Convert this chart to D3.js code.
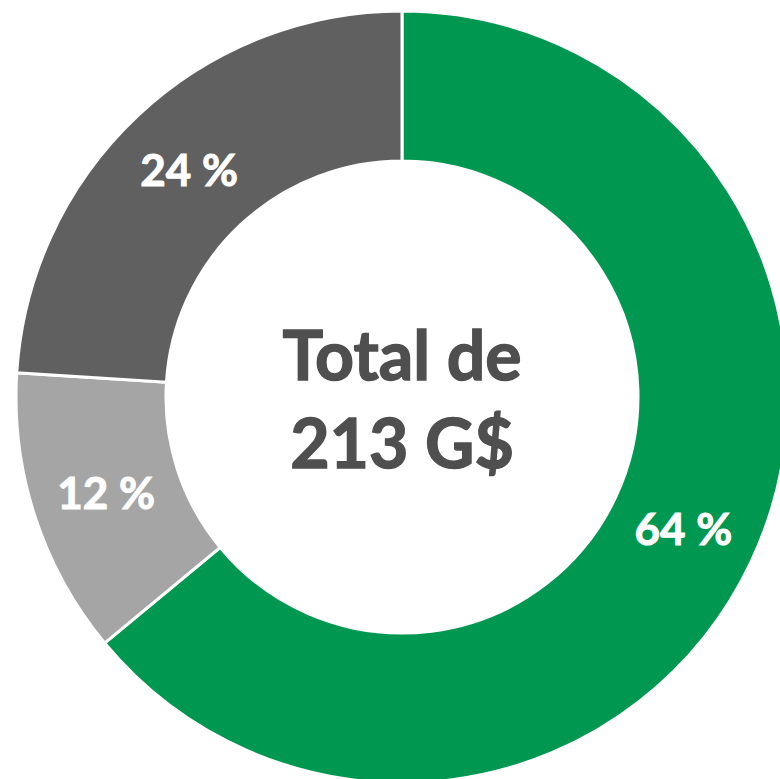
<!doctype html>
<html lang="fr">
<head>
  <meta charset="UTF-8">
  <title>Total de 213 G$</title>
  <script src="https://cdnjs.cloudflare.com/ajax/libs/d3/7.8.5/d3.min.js"></script>
  <style>
  html, body { margin: 0; padding: 0; background: #fff; }
  svg { display: block; }
  </style>
</head>
<body>
<script>

var categories = ["A", "B", "C"];
var values = [64, 12, 24];
var labels = ["64 %", "12 %", "24 %"];
var colors = ["#009750", "#a5a5a5", "#606060"];
var title = ["Total de", "213 G$"];

var w = 780;
var h = 779;
var cx = 402, cy = 397;
var outerR = 386, innerR = 236;

var svg = d3.select('body')
  .append('svg')
  .attr('width', w)
  .attr('height', h);

var g = svg.append('g')
  .attr('transform', 'translate(' + cx + ',' + cy + ')');

var pie = d3.pie()
  .sort(null)
  .value(function(d) { return d; });

var arc = d3.arc()
  .innerRadius(innerR)
  .outerRadius(outerR);

var slices = pie(values);

g.selectAll('path')
  .data(slices)
  .enter()
  .append('path')
  .attr('d', arc)
  .attr('fill', function(d, i) { return colors[i]; })
  .attr('stroke', '#fff')
  .attr('stroke-width', 3)
  .attr('stroke-linejoin', 'miter');

g.selectAll('text.lbl')
  .data(slices)
  .enter()
  .append('text')
  .attr('class', 'lbl')
  .attr('x', function(d) { return arc.centroid(d)[0]; })
  .attr('y', function(d) { return arc.centroid(d)[1]; })
  .attr('dy', '0.36em')
  .attr('text-anchor', 'middle')
  .attr('font-family', 'Lato, sans-serif')
  .attr('font-weight', 'bold')
  .attr('font-size', '44px')
  .attr('fill', '#fff')
  .attr('stroke', '#fff')
  .attr('stroke-width', 1)
  .text(function(d, i) { return labels[i]; });

g.selectAll('text.ttl')
  .data(title)
  .enter()
  .append('text')
  .attr('class', 'ttl')
  .attr('x', 0)
  .attr('y', function(d, i) { return -17 + i * 88; })
  .attr('text-anchor', 'middle')
  .attr('font-family', 'Lato, sans-serif')
  .attr('font-weight', 'bold')
  .attr('font-size', '68px')
  .attr('fill', '#4f4f4f')
  .attr('stroke', '#4f4f4f')
  .attr('stroke-width', 1.4)
  .text(function(d) { return d; });

</script>
</body>
</html>
